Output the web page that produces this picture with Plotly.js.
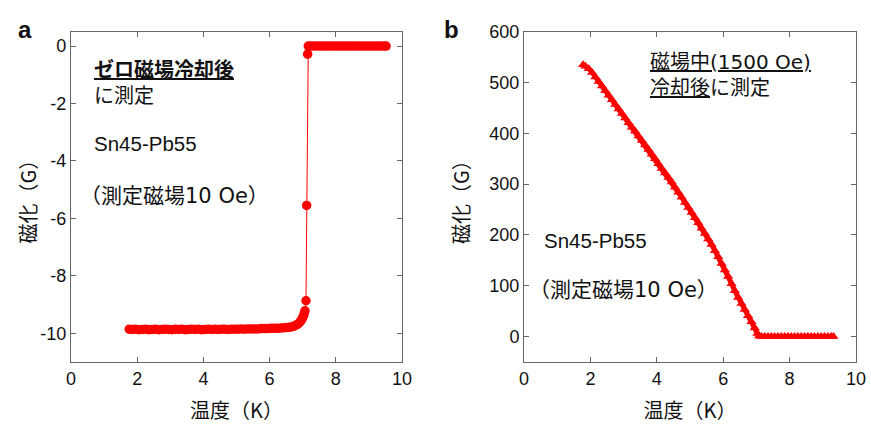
<!DOCTYPE html>
<html>
<head>
<meta charset="utf-8">
<script src="https://cdn.plot.ly/plotly-3.0.1.min.js"></script>
<style>html,body{margin:0;padding:0;background:#fff;}#chart{width:871px;height:435px;}</style>
</head>
<body>
<div id="chart"></div>
<script>
// Panel a: zero-field-cooled magnetization (G) vs temperature (K)
const zfcTemp = [1.76,1.85,1.95,2.05,2.15,2.25,2.35,2.45,2.55,2.65,2.75,2.85,2.95,3.05,3.15,3.25,3.35,3.45,3.55,3.65,3.75,3.85,3.95,4.05,4.15,4.25,4.35,4.45,4.55,4.65,4.75,4.85,4.95,5.05,5.15,5.25,5.35,5.45,5.55,5.65,5.75,5.85,5.95,6.05,6.15,6.25,6.35,6.45,6.55,6.62,6.70,6.77,6.83,6.88,6.93,6.97,7.00,7.03,7.05,7.07,7.10,7.12,7.15,7.17,7.25,7.35,7.45,7.55,7.65,7.75,7.85,7.95,8.05,8.15,8.25,8.35,8.45,8.55,8.65,8.75,8.85,8.95,9.05,9.15,9.25,9.35,9.45,9.52];
const zfcMag = [-9.86,-9.87,-9.86,-9.88,-9.87,-9.86,-9.88,-9.87,-9.86,-9.88,-9.87,-9.86,-9.87,-9.88,-9.86,-9.87,-9.86,-9.88,-9.87,-9.86,-9.87,-9.86,-9.88,-9.87,-9.86,-9.87,-9.86,-9.87,-9.86,-9.86,-9.87,-9.86,-9.86,-9.86,-9.85,-9.86,-9.85,-9.85,-9.85,-9.85,-9.84,-9.84,-9.84,-9.83,-9.83,-9.83,-9.82,-9.81,-9.80,-9.79,-9.77,-9.74,-9.70,-9.66,-9.60,-9.53,-9.46,-9.38,-9.30,-9.22,-8.87,-5.55,-0.28,0.0,0.0,0.0,0.0,0.0,0.0,0.0,0.0,0.0,0.0,0.0,0.0,0.0,0.0,0.0,0.0,0.0,0.0,0.0,0.0,0.0,0.0,0.0,0.0,0.0];

// Panel b: field-cooled (1500 Oe) magnetization (G) vs temperature (K)
const fcTemp = [1.78,1.85,1.95,2.05,2.15,2.25,2.35,2.45,2.55,2.65,2.75,2.85,2.95,3.05,3.15,3.25,3.35,3.45,3.55,3.65,3.75,3.85,3.95,4.05,4.15,4.25,4.35,4.45,4.55,4.65,4.75,4.85,4.95,5.05,5.15,5.25,5.35,5.45,5.55,5.65,5.75,5.85,5.95,6.05,6.15,6.25,6.35,6.45,6.55,6.65,6.75,6.85,6.95,7.03,7.08,7.15,7.25,7.35,7.45,7.55,7.65,7.75,7.85,7.95,8.05,8.15,8.25,8.35,8.45,8.55,8.65,8.75,8.85,8.95,9.05,9.15,9.25,9.32];
const fcMag = [535,532,527,520,511,502,493,484,475,466,457,448,439,430,421,412,404,395,386,377,368,359,350,340,331,322,313,304,294,284,274,264,254,244,234,224,213,203,192,181,169,157,144,131,118,104,90,77,65,53,41,29,17,6,1,0,0,0,0,0,0,0,0,0,0,0,0,0,0,0,0,0,0,0,0,0,0,0];

const xTicks = [0,2,4,6,8,10];
const xTickText = ['0','2','4','6','8','10'];
const yTicksA = [0,-2,-4,-6,-8,-10];
const yTickTextA = ['0','-2','-4','-6','-8','-10'];
const yTicksB = [0,100,200,300,400,500,600];
const yTickTextB = ['0','100','200','300','400','500','600'];

const red = '#ff0000';
const frame = '#666666';
const latin = 'Liberation Sans, Arial, sans-serif';
const jp = 'Noto Sans CJK JP, sans-serif';
const mixed = 'DejaVu Sans, Noto Sans CJK JP, sans-serif';
const tickFont = {family: latin, size: 18, color: '#111'};
const titleFont = {family: jp, size: 20, color: '#111'};

function axis(extra) {
  return Object.assign({
    showline: true, linecolor: frame, linewidth: 1, mirror: 'ticks',
    ticks: 'inside', ticklen: 5, tickcolor: frame, tickwidth: 1,
    showgrid: false, zeroline: false, tickfont: tickFont, fixedrange: true,
    automargin: false
  }, extra);
}

const traces = [
  {x: zfcTemp, y: zfcMag, xaxis: 'x', yaxis: 'y', mode: 'lines+markers',
   line: {color: red, width: 1}, marker: {color: red, size: 9.5, symbol: 'circle'}},
  {x: fcTemp, y: fcMag, xaxis: 'x2', yaxis: 'y2', mode: 'lines+markers',
   line: {color: red, width: 5}, marker: {color: red, size: 9, symbol: 'triangle-up'}}
];

const U = s => '<span style="text-decoration:underline">' + s + '</span>';
function note(text, x, y, xref, yref, font) {
  return {text: text, x: x, y: y, xref: xref, yref: yref, showarrow: false,
    xanchor: 'left', yanchor: 'middle', align: 'left', font: font};
}
function ytitle(x) {
  return {text: '磁化（G）', x: x, y: 0.547, xref: 'paper', yref: 'paper', showarrow: false,
    textangle: -90, xanchor: 'center', yanchor: 'middle', font: titleFont};
}
const fTwo = {family: mixed, size: 20, color: '#111'};
const fMixed = {family: mixed, size: 21, color: '#111'};
const fLatin = {family: latin, size: 20.5, color: '#111'};

const layout = {
  width: 871, height: 435,
  margin: {l: 0, r: 0, t: 0, b: 0},
  paper_bgcolor: '#fff', plot_bgcolor: '#fff',
  showlegend: false,
  xaxis: axis({domain: [0.0815, 0.4615], range: [0, 10], tickvals: xTicks, ticktext: xTickText, anchor: 'y',
    title: {text: '温度（K）', font: titleFont, standoff: 16}}),
  yaxis: axis({domain: [0.168, 0.927], range: [-11, 0.5], tickvals: yTicksA, ticktext: yTickTextA, anchor: 'x'}),
  xaxis2: axis({domain: [0.6016, 0.9828], range: [0, 10], tickvals: xTicks, ticktext: xTickText, anchor: 'y2',
    title: {text: '温度（K）', font: titleFont, standoff: 16}}),
  yaxis2: axis({domain: [0.168, 0.927], range: [-50, 600], tickvals: yTicksB, ticktext: yTickTextB, anchor: 'x2'}),
  annotations: [
    {text: '<b>a</b>', x: 0.018, y: 0.933, xref: 'paper', yref: 'paper', showarrow: false,
     xanchor: 'left', yanchor: 'middle', font: {family: latin, size: 24, color: '#111'}},
    {text: '<b>b</b>', x: 0.507, y: 0.933, xref: 'paper', yref: 'paper', showarrow: false,
     xanchor: 'left', yanchor: 'middle', font: {family: latin, size: 24, color: '#111'}},
    ytitle(0.0316),
    ytitle(0.528),
    note(U('<b>ゼロ磁場冷却後</b>') + '<br>に測定', 0.63, -1.29, 'x', 'y', fTwo),
    note('Sn45-Pb55', 0.63, -3.38, 'x', 'y', fLatin),
    note('（測定磁場10 Oe）', 0.22, -5.22, 'x', 'y', fMixed),
    note(U('磁場中(1500 Oe)') + '<br>' + U('冷却後') + 'に測定', 3.73, 515, 'x2', 'y2', fTwo),
    note('Sn45-Pb55', 0.53, 190, 'x2', 'y2', fLatin),
    note('（測定磁場10 Oe）', 0.09, 92, 'x2', 'y2', fMixed)
  ]
};

Plotly.newPlot('chart', traces, layout, {displayModeBar: false, staticPlot: true});
</script>
</body>
</html>
